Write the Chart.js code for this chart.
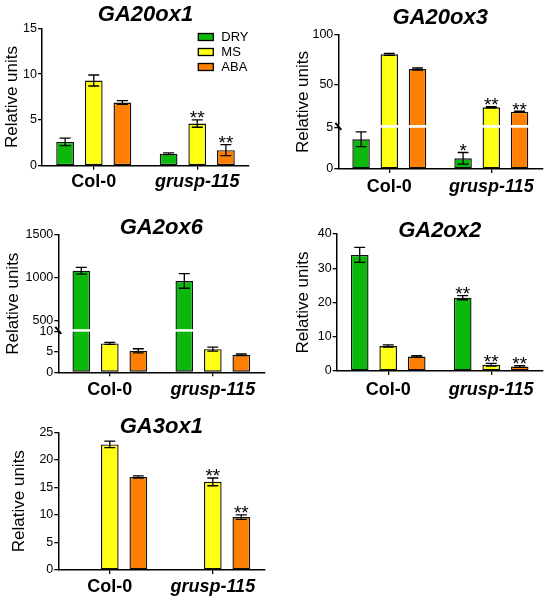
<!DOCTYPE html>
<html>
<head>
<meta charset="utf-8">
<script src="https://cdn.jsdelivr.net/npm/chart.js@4.4.1/dist/chart.umd.min.js"></script>
<style>
html,body{margin:0;padding:0;background:#fff;width:550px;height:601px;overflow:hidden}
canvas{position:absolute}
</style>
</head>
<body>
<canvas id="p1" width="275" height="200" style="left:0px;top:0px;width:275px;height:200px"></canvas>
<canvas id="p2" width="275" height="200" style="left:275px;top:0px;width:275px;height:200px"></canvas>
<canvas id="p3" width="275" height="200" style="left:0px;top:200px;width:275px;height:200px"></canvas>
<canvas id="p4" width="275" height="200" style="left:275px;top:200px;width:275px;height:200px"></canvas>
<canvas id="p5" width="275" height="201" style="left:0px;top:400px;width:275px;height:201px"></canvas>
<script>
// ---------------- DATA ----------------
const GROUPS = ['Col-0', 'grusp-115'];
const SERIES = ['DRY', 'MS', 'ABA'];
const COLORS = ['#0cb80c', '#ffff14', '#ff8000'];

// GA20ox1
const GA20OX1_DRY = [2.6, 1.3];
const GA20OX1_MS  = [9.3, 4.6];
const GA20OX1_ABA = [6.9, 1.7];
const GA20OX1_DRY_ERR = [0.4, 0.1];
const GA20OX1_MS_ERR  = [0.6, 0.4];
const GA20OX1_ABA_ERR = [0.2, 0.6];
const GA20OX1_DRY_SIG = ['', ''];
const GA20OX1_MS_SIG  = ['', '**'];
const GA20OX1_ABA_SIG = ['', '**'];
const GA20OX1_TICKS = [0, 5, 10, 15];

// GA20ox3 (broken axis 5 / 10)
const GA20OX3_DRY = [3.6, 1.3];
const GA20OX3_MS  = [80.7, 27.7];
const GA20OX3_ABA = [66.0, 23.3];
const GA20OX3_DRY_ERR = [0.9, 0.7];
const GA20OX3_MS_ERR  = [1.0, 0.6];
const GA20OX3_ABA_ERR = [1.0, 0.6];
const GA20OX3_DRY_SIG = ['', '*'];
const GA20OX3_MS_SIG  = ['', '**'];
const GA20OX3_ABA_SIG = ['', '**'];
const GA20OX3_TICKS = [0, 5, 50, 100];

// GA2ox6 (broken axis 10 / 400)
const GA2OX6_DRY = [1083, 963];
const GA2OX6_MS  = [7.1, 5.7];
const GA2OX6_ABA = [5.3, 4.3];
const GA2OX6_DRY_ERR = [40, 85];
const GA2OX6_MS_ERR  = [0.25, 0.5];
const GA2OX6_ABA_ERR = [0.5, 0.2];
const GA2OX6_DRY_SIG = ['', ''];
const GA2OX6_MS_SIG  = ['', ''];
const GA2OX6_ABA_SIG = ['', ''];
const GA2OX6_TICKS = [0, 5, 10, 500, 1000, 1500];

// GA2ox2
const GA2OX2_DRY = [33.9, 21.4];
const GA2OX2_MS  = [7.3, 1.8];
const GA2OX2_ABA = [4.2, 1.3];
const GA2OX2_DRY_ERR = [2.2, 0.6];
const GA2OX2_MS_ERR  = [0.35, 0.4];
const GA2OX2_ABA_ERR = [0.25, 0.25];
const GA2OX2_DRY_SIG = ['', '**'];
const GA2OX2_MS_SIG  = ['', '**'];
const GA2OX2_ABA_SIG = ['', '**'];
const GA2OX2_TICKS = [0, 10, 20, 30, 40];

// GA3ox1 (no DRY values)
const GA3OX1_DRY = [null, null];
const GA3OX1_MS  = [22.8, 16.0];
const GA3OX1_ABA = [16.9, 9.6];
const GA3OX1_DRY_ERR = [0, 0];
const GA3OX1_MS_ERR  = [0.6, 0.7];
const GA3OX1_ABA_ERR = [0.2, 0.4];
const GA3OX1_DRY_SIG = ['', ''];
const GA3OX1_MS_SIG  = ['', '**'];
const GA3OX1_ABA_SIG = ['', '**'];
const GA3OX1_TICKS = [0, 5, 10, 15, 20, 25];

// ---------------- BROKEN LINEAR SCALE ----------------
class BrokenLinear extends Chart.LinearScale {
  _brk() { return this.options.brk; }
  getPixelForValue(value) {
    if (value === null || value === undefined || isNaN(value)) return NaN;
    const b = this._brk();
    if (!b) return super.getPixelForValue(value);
    let dec;
    if (value <= b.low) dec = (value - this.min) / (b.low - this.min) * b.lowFrac;
    else if (value >= b.high) dec = b.highFrac + (value - b.high) / (this.max - b.high) * (1 - b.highFrac);
    else dec = b.lowFrac + (value - b.low) / (b.high - b.low) * (b.highFrac - b.lowFrac);
    return this.getPixelForDecimal(dec);
  }
  getValueForPixel(pixel) {
    const b = this._brk();
    if (!b) return super.getValueForPixel(pixel);
    const dec = this.getDecimalForPixel(pixel);
    if (dec <= b.lowFrac) return this.min + dec / b.lowFrac * (b.low - this.min);
    if (dec >= b.highFrac) return b.high + (dec - b.highFrac) / (1 - b.highFrac) * (this.max - b.high);
    return b.low + (dec - b.lowFrac) / (b.highFrac - b.lowFrac) * (b.high - b.low);
  }
}
BrokenLinear.id = 'brokenLinear';
BrokenLinear.defaults = Object.assign({}, Chart.LinearScale.defaults);
Chart.register(BrokenLinear);

Chart.defaults.font.family = "'Liberation Sans', Arial, Helvetica, sans-serif";
Chart.defaults.color = '#000';

function series(idx, values, errs, sig) {
  return {
    label: SERIES[idx], data: values,
    backgroundColor: COLORS[idx], borderColor: '#111', borderWidth: 1.4, borderSkipped: false,
    categoryPercentage: 0.83, barPercentage: 0.62,
    errors: errs, sig: sig
  };
}

function panel(id, title, datasets, ticks, L) {
  const cv = document.getElementById(id);
  const W = cv.width, H = cv.height;
  const overlay = {
    id: 'overlay_' + id,
    afterDatasetsDraw(chart) {
      const ctx = chart.ctx, ys = chart.scales.y, area = chart.chartArea;
      ctx.save();
      // axis break
      if (L.brk) {
        const yl = ys.getPixelForValue(L.brk.low), yh = ys.getPixelForValue(L.brk.high);
        ctx.fillStyle = '#fff';
        ctx.fillRect(area.left + 1, yh, area.right - area.left - 1, yl - yh);
        const mid = (yl + yh) / 2;
        ctx.strokeStyle = '#000'; ctx.lineWidth = 2;
        ctx.beginPath(); ctx.moveTo(area.left - 3, mid - 3.5); ctx.lineTo(area.left + 3, mid + 3.5); ctx.stroke();
      }
      // error bars + significance
      ctx.strokeStyle = '#000'; ctx.lineWidth = 1.3; ctx.fillStyle = '#000';
      chart.data.datasets.forEach((ds, di) => {
        const meta = chart.getDatasetMeta(di);
        ds.data.forEach((v, i) => {
          if (v === null || v === undefined) return;
          const bar = meta.data[i];
          const e = ds.errors[i];
          const x = bar.x, yt = ys.getPixelForValue(v + e), yb = ys.getPixelForValue(v - e);
          const cw = bar.width * 0.31;
          ctx.beginPath();
          ctx.moveTo(x, yt); ctx.lineTo(x, yb);
          ctx.moveTo(x - cw, yt); ctx.lineTo(x + cw, yt);
          ctx.moveTo(x - cw, yb); ctx.lineTo(x + cw, yb);
          ctx.stroke();
          const s = ds.sig[i];
          if (s) {
            ctx.font = "19px 'Liberation Sans', Arial, sans-serif";
            ctx.textAlign = 'center'; ctx.textBaseline = 'alphabetic';
            ctx.fillText(s, x, yt - 4 + 0.44 * 19);
          }
        });
      });
      // legend
      if (L.legend) {
        const g = L.legend;
        ctx.font = g.size + "px 'Liberation Sans', Arial, sans-serif";
        ctx.textAlign = 'left'; ctx.textBaseline = 'middle';
        chart.data.datasets.forEach((ds, di) => {
          const cy = g.y + di * g.dy;
          ctx.fillStyle = ds.backgroundColor;
          ctx.fillRect(g.x, cy - g.h / 2, g.w, g.h);
          ctx.lineWidth = 1.3; ctx.strokeStyle = '#000';
          ctx.strokeRect(g.x, cy - g.h / 2, g.w, g.h);
          ctx.fillStyle = '#000';
          ctx.fillText(ds.label, g.x + g.w + g.gap, cy + 0.5);
        });
      }
      ctx.restore();
    }
  };
  return new Chart(cv, {
    type: 'bar',
    data: { labels: GROUPS, datasets: datasets },
    options: {
      responsive: false, animation: false, events: [],
      layout: { padding: { left: 0, top: 0, right: W - L.r, bottom: 0 } },
      plugins: {
        legend: { display: false },
        tooltip: { enabled: false },
        title: {
          display: true, text: title, fullSize: false, color: '#000',
          font: { size: 22, weight: 'bold', style: 'italic', lineHeight: 0.2 },
          padding: { top: L.tc - 2.2, bottom: L.t - L.tc - 2.2 }
        }
      },
      scales: {
        x: {
          type: 'category', offset: true,
          afterFit: s => { s.height = H - L.b; },
          border: { display: true, color: '#000', width: 1.5 },
          grid: { display: true, drawOnChartArea: false, drawTicks: true, tickLength: 4, offset: false, color: '#000', lineWidth: 1.3 },
          ticks: {
            autoSkip: false, maxRotation: 0, color: '#000', padding: L.xp,
            font: c => ({ size: 18, weight: 'bold', style: c.index === 1 ? 'italic' : 'normal' })
          }
        },
        y: {
          type: L.brk ? 'brokenLinear' : 'linear',
          brk: L.brk || null,
          min: ticks[0], max: ticks[ticks.length - 1],
          afterBuildTicks: s => { s.ticks = ticks.map(v => ({ value: v })); },
          afterFit: s => { s.width = L.l; },
          border: { display: true, color: '#000', width: 1.5 },
          grid: { display: true, drawOnChartArea: false, drawTicks: true, tickLength: 4, color: '#000', lineWidth: 1.3 },
          ticks: { autoSkip: false, color: '#000', padding: 1, font: { size: 12.5 }, callback: v => String(v) },
          title: {
            display: true, text: 'Relative units', color: '#000',
            font: { size: 17, lineHeight: 1 }, padding: { top: L.yt - 8.5, bottom: 0 }
          }
        }
      }
    },
    plugins: [overlay]
  });
}

panel('p1', 'GA20ox1', [
  series(0, GA20OX1_DRY, GA20OX1_DRY_ERR, GA20OX1_DRY_SIG),
  series(1, GA20OX1_MS, GA20OX1_MS_ERR, GA20OX1_MS_SIG),
  series(2, GA20OX1_ABA, GA20OX1_ABA_ERR, GA20OX1_ABA_SIG)
], GA20OX1_TICKS, { l: 42, t: 28.3, r: 249, b: 165.7, tc: 14.5, yt: 12.2, xp: 1.2,
  legend: { x: 198.3, y: 37, dy: 15, w: 15, h: 7, gap: 8, size: 13 } });

panel('p2', 'GA20ox3', [
  series(0, GA20OX3_DRY, GA20OX3_DRY_ERR, GA20OX3_DRY_SIG),
  series(1, GA20OX3_MS, GA20OX3_MS_ERR, GA20OX3_MS_SIG),
  series(2, GA20OX3_ABA, GA20OX3_ABA_ERR, GA20OX3_ABA_SIG)
], GA20OX3_TICKS, { l: 63.3, t: 35, r: 267.3, b: 169, tc: 17.5, yt: 28, xp: 3.2,
  brk: { low: 5, high: 10, lowFrac: 0.308, highFrac: 0.328 } });

panel('p3', 'GA2ox6', [
  series(0, GA2OX6_DRY, GA2OX6_DRY_ERR, GA2OX6_DRY_SIG),
  series(1, GA2OX6_MS, GA2OX6_MS_ERR, GA2OX6_MS_SIG),
  series(2, GA2OX6_ABA, GA2OX6_ABA_ERR, GA2OX6_ABA_SIG)
], GA2OX6_TICKS, { l: 58.3, t: 35, r: 264.3, b: 172.3, tc: 27.8, yt: 13.2, xp: 2.6,
  brk: { low: 10, high: 400, lowFrac: 0.296, highFrac: 0.314 } });

panel('p4', 'GA2ox2', [
  series(0, GA2OX2_DRY, GA2OX2_DRY_ERR, GA2OX2_DRY_SIG),
  series(1, GA2OX2_MS, GA2OX2_MS_ERR, GA2OX2_MS_SIG),
  series(2, GA2OX2_ABA, GA2OX2_ABA_ERR, GA2OX2_ABA_SIG)
], GA2OX2_TICKS, { l: 61.7, t: 34, r: 267.7, b: 171, tc: 31, yt: 28, xp: 4.2 });

panel('p5', 'GA3ox1', [
  series(0, GA3OX1_DRY, GA3OX1_DRY_ERR, GA3OX1_DRY_SIG),
  series(1, GA3OX1_MS, GA3OX1_MS_ERR, GA3OX1_MS_SIG),
  series(2, GA3OX1_ABA, GA3OX1_ABA_ERR, GA3OX1_ABA_SIG)
], GA3OX1_TICKS, { l: 58.3, t: 32.3, r: 264.3, b: 170, tc: 26.7, yt: 19.2, xp: 2.2 });
</script>
</body>
</html>
